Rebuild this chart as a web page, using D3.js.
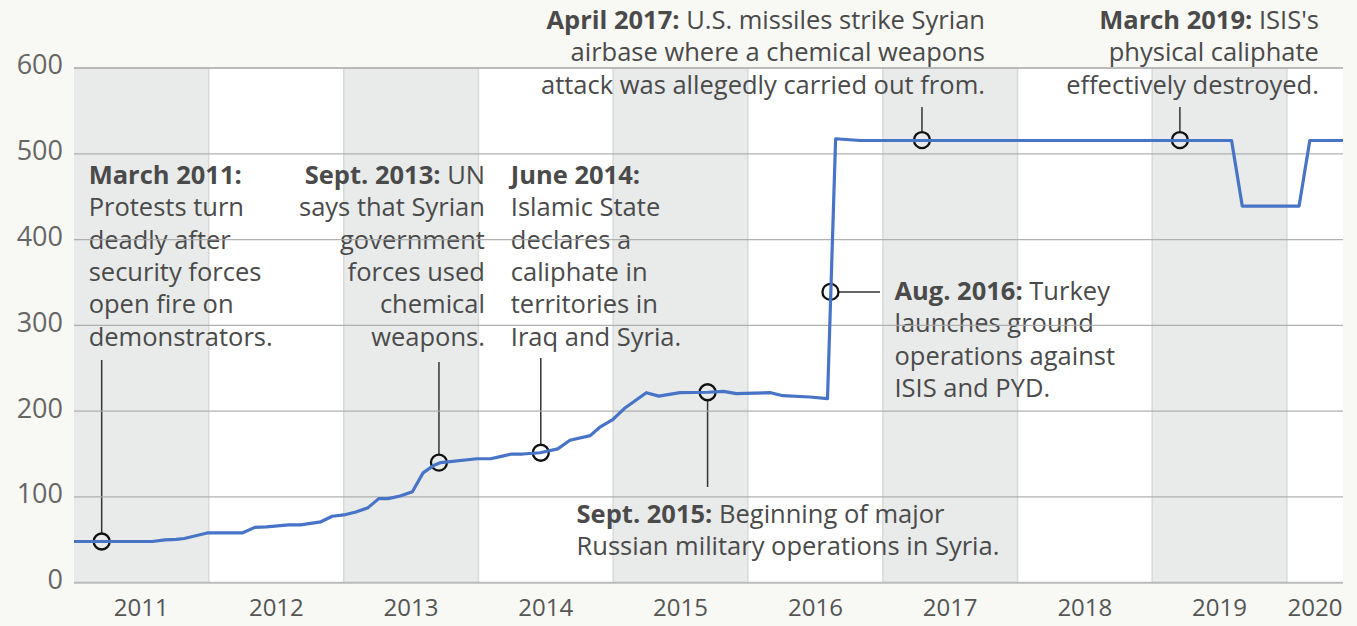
<!DOCTYPE html>
<html>
<head>
<meta charset="utf-8">
<script src="https://cdn.jsdelivr.net/npm/d3@7"></script>
<style>
  body { margin: 0; background: #f8f8f4; }
  #chart { width: 1357px; height: 626px; }
  text { font-family: "Open Sans", sans-serif; }
</style>
</head>
<body>
<div id="chart"></div>
<script>
// values
var dates = ["2011-01-01", "2011-08-01", "2011-09-05", "2011-10-05", "2011-10-27", "2011-12-28",
    "2012-04-01", "2012-05-05", "2012-06-06", "2012-08-04", "2012-09-06", "2012-10-31", "2012-12-01",
    "2013-01-01", "2013-02-03", "2013-03-08", "2013-04-06", "2013-05-01", "2013-06-03", "2013-07-06",
    "2013-08-04", "2013-09-03", "2013-09-21", "2013-12-28",
    "2014-02-03", "2014-03-01", "2014-04-01", "2014-05-01", "2014-06-17", "2014-08-04", "2014-09-06",
    "2014-10-31", "2014-11-25",
    "2015-01-01", "2015-02-03", "2015-04-01", "2015-05-05", "2015-07-01", "2015-09-16", "2015-10-27",
    "2015-12-01",
    "2016-03-03", "2016-04-05", "2016-06-17", "2016-08-04", "2016-08-26", "2016-10-31",
    "2019-08-04", "2019-09-02", "2020-02-03", "2020-03-03", "2020-06-01"];
var values = [48, 48, 50, 50.5, 51.5, 58,
    58, 64.5, 65, 67.5, 67.5, 71, 77.5,
    79, 82.5, 87.5, 98, 98, 101, 106,
    128, 137, 140, 144.5,
    144.5, 147, 150, 150, 151.5, 156, 166,
    171.5, 181,
    190.5, 204, 221.5, 217.5, 221.5, 222, 223,
    220.5,
    221.5, 218, 216.5, 214.5, 517.5, 515.5,
    515.5, 439, 439, 515.5, 515.5];

var years = [2011, 2012, 2013, 2014, 2015, 2016, 2017, 2018, 2019, 2020];
var yTicks = [0, 100, 200, 300, 400, 500, 600];

var eventDates = ["2011-03-17", "2013-09-16", "2014-06-19", "2015-09-14", "2016-08-12", "2017-04-17", "2019-03-17"];
var eventValues = [48, 140, 151.5, 222, 339, 516, 516];
var eventBold = ["March 2011:", "Sept. 2013:", "June 2014:", "Sept. 2015:", "Aug. 2016:", "April 2017:", "March 2019:"];
var eventLines = [
    ["", "Protests turn", "deadly after", "security forces", "open fire on", "demonstrators."],
    [" UN", "says that Syrian", "government", "forces used", "chemical", "weapons."],
    ["", "Islamic State", "declares a", "caliphate in", "territories in", "Iraq and Syria."],
    [" Beginning of major", "Russian military operations in Syria."],
    [" Turkey", "launches ground", "operations against", "ISIS and PYD."],
    [" U.S. missiles strike Syrian", "airbase where a chemical weapons", "attack was allegedly carried out from."],
    [" ISIS's", "physical caliphate", "effectively destroyed."]
];

// where each label sits: leader direction/length, text anchor, text x offset, first baseline
var labelLayout = [
    {dir: "up", end: 360, anchor: "start", dx: -13, y: 184},
    {dir: "up", end: 362, anchor: "end", dx: 46, y: 184},
    {dir: "up", end: 358, anchor: "start", dx: -30, y: 184},
    {dir: "down", end: 487, anchor: "start", dx: -131, y: 523},
    {dir: "right", end: 880, anchor: "start", dx: 64, y: 300},
    {dir: "up", end: 107, anchor: "end", dx: 63, y: 29},
    {dir: "up", end: 107, anchor: "end", dx: 139, y: 29}
];

var parse = d3.timeParse("%Y-%m-%d");
var data = dates.map(function(d, i) { return {date: parse(d), value: values[i]}; });
var events = eventDates.map(function(d, i) {
    return {date: parse(d), value: eventValues[i], bold: eventBold[i], lines: eventLines[i], layout: labelLayout[i]};
});

var width = 1357;
var height = 626;
var margin = {top: 68, left: 74, right: 14, bottom: 43};

var svg = d3.select("#chart")
    .append("svg")
    .attr("width", width)
    .attr("height", height);

var xScale = d3.scaleTime()
    .domain([parse("2011-01-01"), parse("2020-06-01")])
    .range([margin.left, width - margin.right]);

var yScale = d3.scaleLinear()
    .domain([0, 600])
    .range([height - margin.bottom - 0.3, margin.top]);

var xEnd = xScale.range()[1];

// plot background and alternating year bands
svg.append("rect")
    .attr("x", margin.left)
    .attr("y", margin.top)
    .attr("width", xEnd - margin.left)
    .attr("height", yScale(0) - margin.top)
    .attr("fill", "#ffffff");

svg.selectAll("rect.band")
    .data(years)
    .enter()
    .append("rect")
        .attr("class", "band")
        .attr("x", function(d) { return xScale(new Date(d, 0, 1)); })
        .attr("y", margin.top)
        .attr("width", function(d) { return Math.min(xScale(new Date(d + 1, 0, 1)), xEnd) - xScale(new Date(d, 0, 1)); })
        .attr("height", yScale(0) - margin.top)
        .attr("fill", function(d, i) { return i % 2 === 0 ? "#e8ebea" : "#ffffff"; });

svg.selectAll("line.yearline")
    .data(years.slice(1))
    .enter()
    .append("line")
        .attr("class", "yearline")
        .attr("x1", function(d) { return xScale(new Date(d, 0, 1)); })
        .attr("x2", function(d) { return xScale(new Date(d, 0, 1)); })
        .attr("y1", margin.top)
        .attr("y2", yScale(0))
        .attr("stroke", "#d9d9d9")
        .attr("stroke-width", 1.5);

// annotation texts
var labels = svg.selectAll("g.label")
    .data(events)
    .enter()
    .append("g")
        .attr("class", "label");

labels.each(function(d) {
    var g = d3.select(this);
    var t = g.append("text")
        .attr("text-anchor", d.layout.anchor)
        .attr("font-size", 25.5)
        .attr("fill", "#4a4a4a");
    var x = xScale(d.date) + d.layout.dx;
    d.lines.forEach(function(line, i) {
        var ts = t.append("tspan")
            .attr("x", x)
            .attr("y", d.layout.y + i * 32.3);
        if (i === 0) {
            ts.append("tspan").attr("font-weight", 700).text(d.bold);
            ts.append("tspan").text(line);
        } else {
            ts.text(line);
        }
    });
});

// gridlines
svg.selectAll("line.grid")
    .data(yTicks)
    .enter()
    .append("line")
        .attr("class", "grid")
        .attr("x1", margin.left)
        .attr("x2", xEnd)
        .attr("y1", function(d) { return yScale(d); })
        .attr("y2", function(d) { return yScale(d); })
        .attr("stroke", function(d) { return d === 0 || d === 600 ? "#b4b4b4" : "#a8a8a8"; })
        .attr("stroke-opacity", 0.9)
        .attr("stroke-width", function(d) { return d === 0 || d === 600 ? 2 : 1.3; });

// axes
var yAxis = svg.append("g")
    .attr("transform", `translate(${margin.left - 11}, 0)`)
    .call(d3.axisLeft(yScale).tickValues(yTicks).tickSize(0).tickPadding(0));

var xAxis = svg.append("g")
    .attr("transform", `translate(0, ${yScale(0)})`)
    .call(d3.axisBottom(xScale)
        .tickValues(years.map(function(y) { return new Date(y, 6, 1); }))
        .tickFormat(d3.timeFormat("%Y"))
        .tickSize(0)
        .tickPadding(0));

svg.selectAll(".domain").remove();

yAxis.selectAll("text")
    .attr("font-size", 27)
    .attr("fill", "#666")
    .attr("dy", "0.22em")
    .style("font-family", "'Open Sans', sans-serif");

xAxis.selectAll("text")
    .attr("font-size", 24)
    .attr("fill", "#555")
    .attr("y", 0)
    .attr("dy", 33)
    .style("font-family", "'Open Sans', sans-serif");

// last year label sits in the middle of the visible part of the year
xAxis.selectAll(".tick")
    .filter(function(d) { return d.getFullYear() === 2020; })
    .attr("transform", "translate(" + ((xScale(new Date(2020, 0, 1)) + xEnd) / 2) + ",0)");

// the series line
var line = d3.line()
    .x(function(d) { return xScale(d.date); })
    .y(function(d) { return yScale(d.value); });

svg.append("path")
    .datum(data)
    .attr("d", line)
    .attr("fill", "none")
    .attr("stroke", "#4774c6")
    .attr("stroke-width", 3.2)
    .attr("stroke-linejoin", "round");

// leader lines and markers
var r = 8;
labels.each(function(d) {
    var g = d3.select(this);
    var cx = xScale(d.date), cy = yScale(d.value);
    var seg = g.append("line")
        .attr("stroke", "#333")
        .attr("stroke-width", 1.5);
    if (d.layout.dir === "up") {
        seg.attr("x1", cx).attr("x2", cx).attr("y1", cy - r).attr("y2", d.layout.end);
    } else if (d.layout.dir === "down") {
        seg.attr("x1", cx).attr("x2", cx).attr("y1", cy + r).attr("y2", d.layout.end);
    } else {
        seg.attr("x1", cx + r).attr("x2", d.layout.end).attr("y1", cy).attr("y2", cy);
    }
    g.append("circle")
        .attr("cx", cx)
        .attr("cy", cy)
        .attr("r", r)
        .attr("fill", "none")
        .attr("stroke", "#111")
        .attr("stroke-width", 2.3);
});
</script>
</body>
</html>
